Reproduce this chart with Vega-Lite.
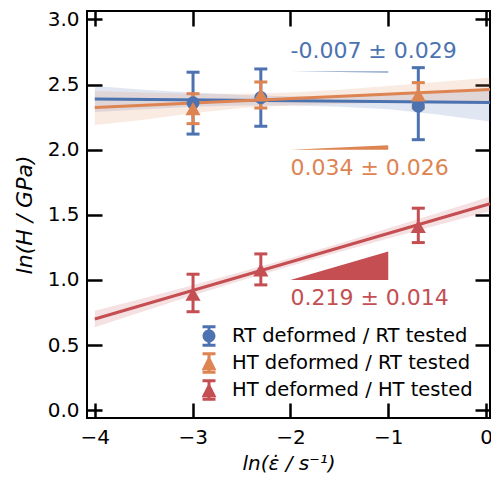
{
  "$schema": "https://vega.github.io/schema/vega-lite/v6.json",
  "width": 403,
  "height": 407,
  "autosize": {"type": "none"},
  "padding": {"left": 87, "top": 11, "right": 1, "bottom": 61},
  "background": "white",
  "datasets": {
    "pts": [
      {"series": "RT deformed / RT tested", "x": -2.996, "y": 2.36, "lo": 2.12, "hi": 2.595},
      {"series": "RT deformed / RT tested", "x": -2.303, "y": 2.40, "lo": 2.18, "hi": 2.62},
      {"series": "RT deformed / RT tested", "x": -0.693, "y": 2.335, "lo": 2.077, "hi": 2.63},
      {"series": "HT deformed / RT tested", "x": -2.996, "y": 2.315, "lo": 2.20, "hi": 2.43},
      {"series": "HT deformed / RT tested", "x": -2.303, "y": 2.42, "lo": 2.32, "hi": 2.52},
      {"series": "HT deformed / RT tested", "x": -0.693, "y": 2.42, "lo": 2.32, "hi": 2.515},
      {"series": "HT deformed / HT tested", "x": -2.996, "y": 0.89, "lo": 0.756, "hi": 1.044},
      {"series": "HT deformed / HT tested", "x": -2.303, "y": 1.077, "lo": 0.962, "hi": 1.2},
      {"series": "HT deformed / HT tested", "x": -0.693, "y": 1.41, "lo": 1.287, "hi": 1.551}
    ],
    "fit": [
      {"series": "RT deformed / RT tested", "x": -4, "y": 2.39},
      {"series": "RT deformed / RT tested", "x": 0.04, "y": 2.3617},
      {"series": "HT deformed / RT tested", "x": -4, "y": 2.324},
      {"series": "HT deformed / RT tested", "x": 0.04, "y": 2.4614},
      {"series": "HT deformed / HT tested", "x": -4, "y": 0.70},
      {"series": "HT deformed / HT tested", "x": 0.04, "y": 1.585}
    ],
    "band": [
      {"series": "RT deformed / RT tested", "x": -4, "lo": 2.29, "hi": 2.49},
      {"series": "RT deformed / RT tested", "x": -3.5, "lo": 2.31, "hi": 2.46},
      {"series": "RT deformed / RT tested", "x": -3, "lo": 2.33, "hi": 2.44},
      {"series": "RT deformed / RT tested", "x": -2.5, "lo": 2.34, "hi": 2.42},
      {"series": "RT deformed / RT tested", "x": -2, "lo": 2.34, "hi": 2.41},
      {"series": "RT deformed / RT tested", "x": -1.5, "lo": 2.33, "hi": 2.41},
      {"series": "RT deformed / RT tested", "x": -1, "lo": 2.31, "hi": 2.42},
      {"series": "RT deformed / RT tested", "x": -0.5, "lo": 2.27, "hi": 2.44},
      {"series": "RT deformed / RT tested", "x": 0, "lo": 2.22, "hi": 2.46},
      {"series": "RT deformed / RT tested", "x": 0.04, "lo": 2.215, "hi": 2.465},
      {"series": "HT deformed / RT tested", "x": -4, "lo": 2.19, "hi": 2.45},
      {"series": "HT deformed / RT tested", "x": -3.5, "lo": 2.23, "hi": 2.44},
      {"series": "HT deformed / RT tested", "x": -3, "lo": 2.28, "hi": 2.43},
      {"series": "HT deformed / RT tested", "x": -2.5, "lo": 2.32, "hi": 2.43},
      {"series": "HT deformed / RT tested", "x": -2, "lo": 2.34, "hi": 2.44},
      {"series": "HT deformed / RT tested", "x": -1.5, "lo": 2.35, "hi": 2.46},
      {"series": "HT deformed / RT tested", "x": -1, "lo": 2.36, "hi": 2.49},
      {"series": "HT deformed / RT tested", "x": -0.5, "lo": 2.37, "hi": 2.52},
      {"series": "HT deformed / RT tested", "x": 0, "lo": 2.37, "hi": 2.55},
      {"series": "HT deformed / RT tested", "x": 0.04, "lo": 2.37, "hi": 2.555},
      {"series": "HT deformed / HT tested", "x": -4, "lo": 0.637, "hi": 0.763},
      {"series": "HT deformed / HT tested", "x": -3.5, "lo": 0.76, "hi": 0.86},
      {"series": "HT deformed / HT tested", "x": -3, "lo": 0.88, "hi": 0.96},
      {"series": "HT deformed / HT tested", "x": -2.5, "lo": 0.995, "hi": 1.062},
      {"series": "HT deformed / HT tested", "x": -2, "lo": 1.108, "hi": 1.168},
      {"series": "HT deformed / HT tested", "x": -1.5, "lo": 1.215, "hi": 1.28},
      {"series": "HT deformed / HT tested", "x": -1, "lo": 1.318, "hi": 1.396},
      {"series": "HT deformed / HT tested", "x": -0.5, "lo": 1.42, "hi": 1.513},
      {"series": "HT deformed / HT tested", "x": 0, "lo": 1.52, "hi": 1.632},
      {"series": "HT deformed / HT tested", "x": 0.04, "lo": 1.528, "hi": 1.642}
    ],
    "wedge": [
      {"series": "RT deformed / RT tested", "x": -2, "y": 2.6, "y2": 2.6},
      {"series": "RT deformed / RT tested", "x": -1, "y": 2.593, "y2": 2.6},
      {"series": "HT deformed / RT tested", "x": -2, "y": 2.0, "y2": 2.0},
      {"series": "HT deformed / RT tested", "x": -1, "y": 2.034, "y2": 2.0},
      {"series": "HT deformed / HT tested", "x": -2, "y": 1.0, "y2": 1.0},
      {"series": "HT deformed / HT tested", "x": -1, "y": 1.219, "y2": 1.0}
    ],
    "lab": [
      {"series": "RT deformed / RT tested", "x": -2, "y": 2.76, "label": "-0.007 ± 0.029"},
      {"series": "HT deformed / RT tested", "x": -2, "y": 1.86, "label": "0.034 ± 0.026"},
      {"series": "HT deformed / HT tested", "x": -2, "y": 0.86, "label": "0.219 ± 0.014"}
    ]
  },
  "layer": [
    {
      "data": {"name": "band"},
      "mark": {"type": "area", "fillOpacity": 0.17},
      "encoding": {
        "x": {"field": "x", "type": "quantitative", "scale": {"domain": [-4.08, 0.04], "nice": false, "zero": false},
              "axis": {"orient": "bottom", "values": [-4, -3, -2, -1, 0], "format": "d", "title": "ln(ε̇ / s⁻¹)", "labelPadding": 24, "titlePadding": 6}},
        "y": {"field": "lo", "type": "quantitative", "scale": {"domain": [-0.06, 3.065], "nice": false, "zero": false},
              "axis": {"orient": "left", "values": [0, 0.5, 1, 1.5, 2, 2.5, 3], "format": ".1f", "title": "ln(H / GPa)", "titleFontSize": 22, "labelPadding": 23, "titlePadding": 11}},
        "y2": {"field": "hi"},
        "color": {"field": "series", "type": "nominal", "legend": null,
                  "scale": {"domain": ["RT deformed / RT tested", "HT deformed / RT tested", "HT deformed / HT tested"], "range": ["#4c72b0", "#dd8452", "#c44e52"]}}
      }
    },
    {
      "data": {"name": "fit"},
      "mark": {"type": "line", "strokeWidth": 3},
      "encoding": {
        "x": {"field": "x", "type": "quantitative", "axis": {"orient": "top", "values": [-4, -3, -2, -1, 0], "labels": false, "title": null}},
        "y": {"field": "y", "type": "quantitative", "axis": {"orient": "right", "values": [0, 0.5, 1, 1.5, 2, 2.5, 3], "labels": false, "title": null}},
        "color": {"field": "series", "type": "nominal", "legend": null}
      }
    },
    {
      "data": {"name": "wedge"},
      "mark": {"type": "area", "opacity": 1},
      "encoding": {
        "x": {"field": "x", "type": "quantitative", "axis": null},
        "y": {"field": "y", "type": "quantitative", "axis": null},
        "y2": {"field": "y2"},
        "color": {"field": "series", "type": "nominal", "legend": null}
      }
    },
    {
      "data": {"name": "pts"},
      "mark": {"type": "rule", "strokeWidth": 3},
      "encoding": {
        "x": {"field": "x", "type": "quantitative", "axis": null},
        "y": {"field": "lo", "type": "quantitative", "axis": null},
        "y2": {"field": "hi"},
        "color": {"field": "series", "type": "nominal", "legend": null}
      }
    },
    {
      "data": {"name": "pts"},
      "mark": {"type": "tick", "orient": "horizontal", "size": 13, "thickness": 3, "opacity": 1},
      "encoding": {
        "x": {"field": "x", "type": "quantitative", "axis": null},
        "y": {"field": "lo", "type": "quantitative", "axis": null},
        "color": {"field": "series", "type": "nominal", "legend": null}
      }
    },
    {
      "data": {"name": "pts"},
      "mark": {"type": "tick", "orient": "horizontal", "size": 13, "thickness": 3, "opacity": 1},
      "encoding": {
        "x": {"field": "x", "type": "quantitative", "axis": null},
        "y": {"field": "hi", "type": "quantitative", "axis": null},
        "color": {"field": "series", "type": "nominal", "legend": null}
      }
    },
    {
      "data": {"name": "pts"},
      "transform": [{"filter": "datum.series === 'RT deformed / RT tested'"}],
      "mark": {"type": "point", "shape": "circle", "filled": true, "opacity": 1, "size": 170},
      "encoding": {
        "x": {"field": "x", "type": "quantitative", "axis": null},
        "y": {"field": "y", "type": "quantitative", "axis": null},
        "color": {"field": "series", "type": "nominal", "legend": null}
      }
    },
    {
      "data": {"name": "pts"},
      "transform": [{"filter": "datum.series !== 'RT deformed / RT tested'"}],
      "mark": {"type": "point", "shape": "triangle-up", "filled": true, "opacity": 1, "size": 230},
      "encoding": {
        "x": {"field": "x", "type": "quantitative", "axis": null},
        "y": {"field": "y", "type": "quantitative", "axis": null},
        "color": {"field": "series", "type": "nominal", "legend": null}
      }
    },
    {
      "data": {"name": "lab"},
      "mark": {"type": "text", "align": "left", "baseline": "middle", "fontSize": 22, "font": "DejaVu Sans"},
      "encoding": {
        "x": {"field": "x", "type": "quantitative", "axis": null},
        "y": {"field": "y", "type": "quantitative", "axis": null},
        "text": {"field": "label"},
        "color": {"field": "series", "type": "nominal", "legend": null}
      }
    },
    {
      "data": {"name": "pts"},
      "mark": {"type": "point", "filled": true, "size": 0, "opacity": 1},
      "encoding": {
        "x": {"field": "x", "type": "quantitative", "axis": null},
        "y": {"field": "y", "type": "quantitative", "axis": null},
        "color": {"field": "series", "type": "nominal",
                 "legend": {"title": null, "orient": "bottom-right", "offset": 17, "symbolSize": 576, "symbolOpacity": 1, "labelLimit": 0}},
        "shape": {"field": "series", "type": "nominal",
                  "scale": {"domain": ["RT deformed / RT tested", "HT deformed / RT tested", "HT deformed / HT tested"],
                            "range": [
                              "M-0.125,-0.9L0.125,-0.9L0.125,0.9L-0.125,0.9Z M-0.54,-0.9L0.54,-0.9L0.54,-0.65L-0.54,-0.65Z M-0.54,0.65L0.54,0.65L0.54,0.9L-0.54,0.9Z M-0.54,0A0.54,0.54 0 1,1 0.54,0A0.54,0.54 0 1,1 -0.54,0Z",
                              "M-0.125,-0.9L0.125,-0.9L0.125,0.9L-0.125,0.9Z M-0.54,-0.9L0.54,-0.9L0.54,-0.65L-0.54,-0.65Z M-0.54,0.65L0.54,0.65L0.54,0.9L-0.54,0.9Z M0,-0.62L0.62,0.6L-0.62,0.6Z",
                              "M-0.125,-0.9L0.125,-0.9L0.125,0.9L-0.125,0.9Z M-0.54,-0.9L0.54,-0.9L0.54,-0.65L-0.54,-0.65Z M-0.54,0.65L0.54,0.65L0.54,0.9L-0.54,0.9Z M0,-0.62L0.62,0.6L-0.62,0.6Z"
                            ]},
                  "legend": {"title": null, "orient": "bottom-right", "offset": 17, "symbolSize": 576, "symbolOpacity": 1, "labelLimit": 0}}
      }
    }
  ],
  "resolve": {"axis": {"x": "independent", "y": "independent"}, "legend": {"color": "independent", "shape": "independent"}},
  "config": {
    "font": "DejaVu Sans",
    "view": {"stroke": "black", "strokeWidth": 2},
    "axis": {
      "grid": false, "domain": false, "tickColor": "black", "tickWidth": 2.5, "tickSize": -15,
      "labelColor": "black", "labelFontSize": 20, "labelFont": "DejaVu Sans",
      "titleFontSize": 20, "titleFont": "DejaVu Sans", "titleFontStyle": "italic", "titleFontWeight": "normal", "titleColor": "black"
    },
    "legend": {
      "labelFontSize": 19.5, "labelFont": "DejaVu Sans", "labelColor": "black", "symbolStrokeWidth": 0,
      "labelOffset": 11, "rowPadding": 4, "labelLimit": 0
    }
  }
}
